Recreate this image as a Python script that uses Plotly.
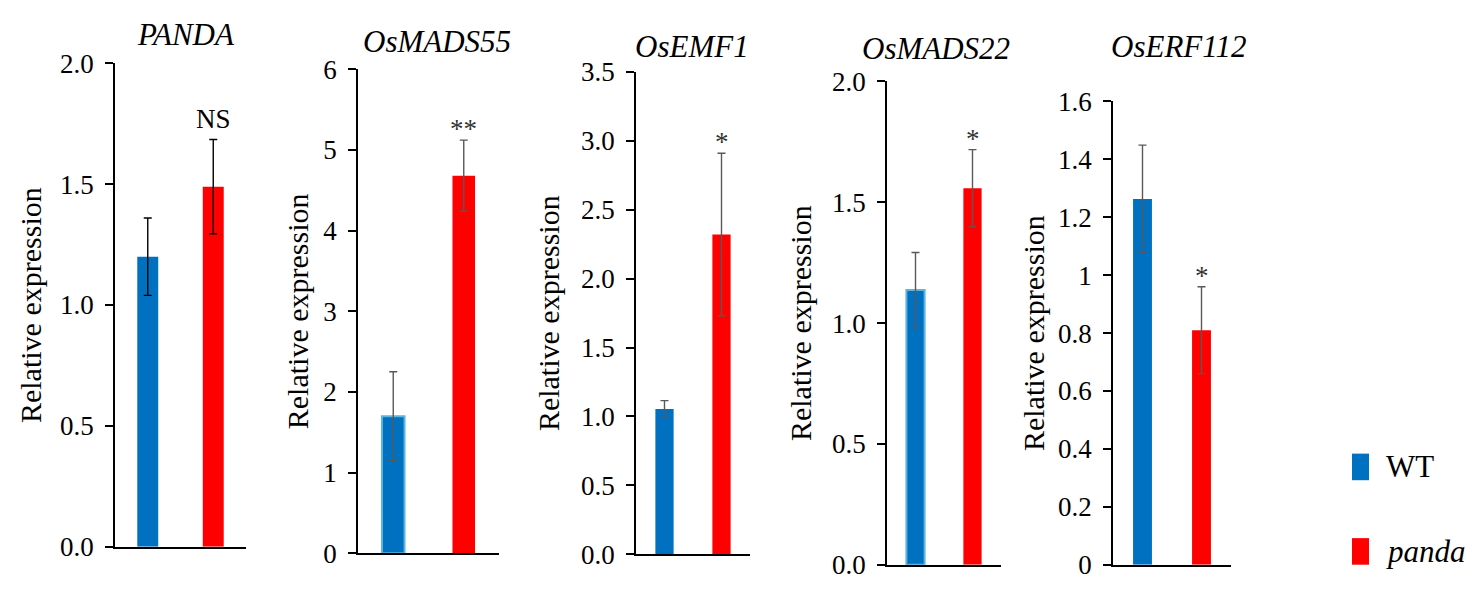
import plotly.graph_objects as go

# ---------------- data ----------------
genes = ["PANDA", "OsMADS55", "OsEMF1", "OsMADS22", "OsERF112"]
groups = ["WT", "panda"]
wt_mean = [1.20, 1.70, 1.055, 1.137, 1.263]
wt_err = [0.16, 0.55, 0.06, 0.155, 0.186]
panda_mean = [1.49, 4.68, 2.32, 1.558, 0.81]
panda_err = [0.195, 0.44, 0.59, 0.16, 0.15]
sig_labels = ["NS", "**", "*", "*", "*"]
y_max = [2.0, 6, 3.5, 2.0, 1.6]
y_dtick = [0.5, 1, 0.5, 0.5, 0.2]
y_format = [".1f", "d", ".1f", ".1f", ""]

# ---------------- layout (pixels) ----------------
W, H = 1480, 593
axis_left = [115, 358, 636, 887, 1113]
axis_right = [246, 499, 750, 1001, 1231]
axis_top = [51, 57, 60, 70, 91]
axis_bottom = [560, 567, 568, 579, 579]
ytitle_x = [30, 297, 548, 800, 1033]
gtitle_xy = [(186, 21), (437, 28), (692, 33), (936, 35), (1178, 33)]

BLUE = "#0070C0"
RED = "#FF0000"
FONT = "Liberation Serif, Times New Roman, serif"

fig = go.Figure()
annotations = []
for i, g in enumerate(genes):
    n = "" if i == 0 else str(i + 1)
    xa, ya = "x" + n, "y" + n
    err_col = "#000000" if i == 0 else "#595959"
    outline = "#5DB4DC" if i in (1, 3) else BLUE
    outline_w = 2 if i in (1, 3) else 0
    fig.add_trace(go.Bar(
        x=[0], y=[wt_mean[i]], width=0.32, xaxis=xa, yaxis=ya,
        marker=dict(color=BLUE, line=dict(color=outline, width=outline_w)),
        error_y=dict(type="data", array=[wt_err[i]], color=err_col, thickness=1.4, width=4),
        showlegend=False, name="WT"))
    fig.add_trace(go.Bar(
        x=[1], y=[panda_mean[i]], width=0.32, xaxis=xa, yaxis=ya,
        marker=dict(color=RED, line=dict(width=0)),
        error_y=dict(type="data", array=[panda_err[i]], color=err_col, thickness=1.4, width=4),
        showlegend=False, name="panda"))

    xdom = [axis_left[i] / W, axis_right[i] / W]
    ydom = [1 - axis_bottom[i] / H, 1 - axis_top[i] / H]
    fig.update_layout(**{
        ("xaxis" + n): dict(domain=xdom, range=[-0.5, 1.5], showticklabels=False,
                            ticks="", showgrid=False, zeroline=False, showline=True,
                            linecolor="black", linewidth=1.7, anchor=ya, fixedrange=True),
        ("yaxis" + n): dict(domain=ydom, range=[0, y_max[i]], dtick=y_dtick[i], tick0=0,
                            tickformat=y_format[i], ticks="outside", ticklen=8,
                            tickwidth=1.7, tickcolor="black", showgrid=False,
                            zeroline=False, showline=True, linecolor="black",
                            linewidth=1.7, anchor=xa, ticklabelstandoff=6,
                            tickfont=dict(family=FONT, size=27, color="black")),
    })
    # significance label above the red bar's error bar
    annotations.append(dict(
        x=1, y=panda_mean[i] + panda_err[i], xref=xa, yref=ya,
        text=sig_labels[i], showarrow=False, yanchor="bottom",
        yshift=(4 if sig_labels[i] == "NS" else -6),
        font=dict(family=FONT, size=27, color="#000000" if i == 0 else "#333333")))
    # y-axis title
    annotations.append(dict(
        x=ytitle_x[i] / W, y=0.5, xref="paper", yref=ya + " domain",
        text="Relative expression", textangle=-90, showarrow=False,
        xanchor="center", yanchor="middle",
        font=dict(family=FONT, size=30, color="black")))
    # gene title
    gx, gy = gtitle_xy[i]
    annotations.append(dict(
        x=gx / W, y=1 - gy / H, xref="paper", yref="paper",
        text="<i>" + g + "</i>", showarrow=False,
        xanchor="center", yanchor="middle",
        font=dict(family=FONT, size=31, color="black")))

# legend (drawn manually to match large swatches)
legend_items = [(groups[0], BLUE, 476, False), (groups[1], RED, 565, True)]
shapes = []
for label, col, yc, ital in legend_items:
    shapes.append(dict(type="rect", xref="paper", yref="paper",
                       x0=1352 / W, x1=1369 / W, y0=1 - (yc + 14) / H, y1=1 - (yc - 14) / H,
                       fillcolor=col, line=dict(width=0)))
    annotations.append(dict(
        x=1384 / W, y=1 - yc / H, xref="paper", yref="paper",
        text=("<i>" + label + "</i>") if ital else label, showarrow=False,
        xanchor="left", yanchor="middle",
        font=dict(family=FONT, size=31, color="black")))

fig.update_layout(
    width=W, height=H, margin=dict(l=0, r=0, t=0, b=0),
    paper_bgcolor="white", plot_bgcolor="white",
    annotations=annotations, shapes=shapes, barmode="overlay",
)

fig.write_html("out.html", config={"displayModeBar": False})
